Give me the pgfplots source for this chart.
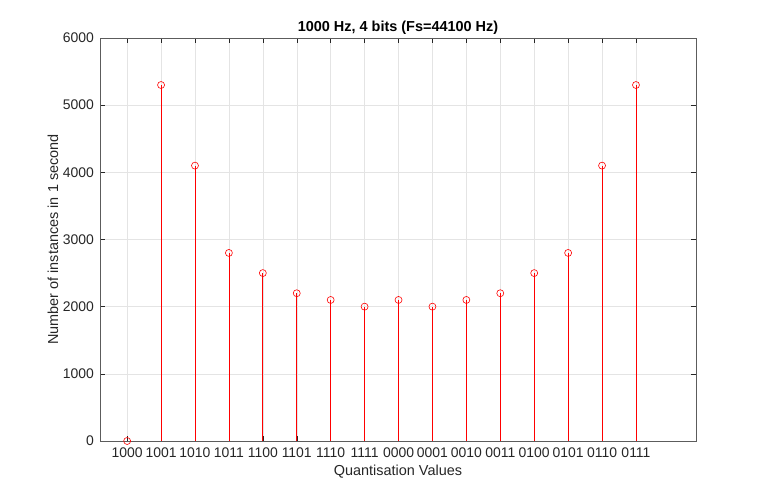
\documentclass[border=0pt]{standalone}
\usepackage{pgfplots}
\pgfplotsset{compat=1.18}
\usepackage{fontspec}
\setmainfont{Liberation Sans}
\definecolor{axgray}{RGB}{38,38,38}
\definecolor{gridgray}{RGB}{228,228,228}
\definecolor{stemred}{RGB}{255,0,0}
\begin{document}
\begin{tikzpicture}[x=1bp,y=1bp]
\path[use as bounding box] (0,0) rectangle (768,496);
\begin{axis}[
  at={(100bp,55bp)}, anchor=south west,
  scale only axis, width=596bp, height=403bp,
  xmin=0.2, xmax=17.77, ymin=0, ymax=6000,
  xtick={1,...,16},
  xticklabels={1000,1001,1010,1011,1100,1101,1110,1111,0000,0001,0010,0011,0100,0101,0110,0111},
  ytick={0,1000,...,6000},
  scaled y ticks=false,
  /pgf/number format/assume math mode=true,
  /pgf/number format/1000 sep={},
  tick align=inside,
  major tick length=5bp,
  tick style={axgray, line width=0.5pt},
  axis line style={axgray!75, line width=0.6pt},
  grid=major,
  grid style={gridgray, line width=0.5pt},
  ticklabel style={font=\fontsize{14}{16}\selectfont, text=axgray},
  xticklabel style={inner sep=0pt, anchor=base, yshift=-17bp},
  yticklabel style={inner sep=0pt, anchor=east, xshift=-6bp},
  xlabel={Quantisation Values},
  ylabel={Number of instances in 1 second},
  label style={font=\fontsize{14.5}{16}\selectfont, text=axgray},
  xlabel style={at={(axis description cs:0.5,-0.0868)}, anchor=base, inner sep=0pt},
  ylabel style={at={(axis description cs:-0.0789,0.5)}, anchor=center, inner sep=0pt},
  every axis title shift=0pt,
  title={\textbf{1000 Hz, 4 bits (Fs=44100 Hz)}},
  title style={font=\fontsize{14.5}{16}\selectfont, at={(axis description cs:0.5,1.0149)}, anchor=base, inner sep=0pt},
  clip=false,
]
\addplot+[ycomb, stemred, line width=0.7pt, mark=o, mark size=3.5bp,
  mark options={stemred, line width=0.6pt, fill=none}]
  coordinates {
  (1,0) (2,5300) (3,4100) (4,2800) (5,2500) (6,2200) (7,2100) (8,2000)
  (9,2100) (10,2000) (11,2100) (12,2200) (13,2500) (14,2800) (15,4100) (16,5300)
  };
\end{axis}
\end{tikzpicture}
\end{document}
